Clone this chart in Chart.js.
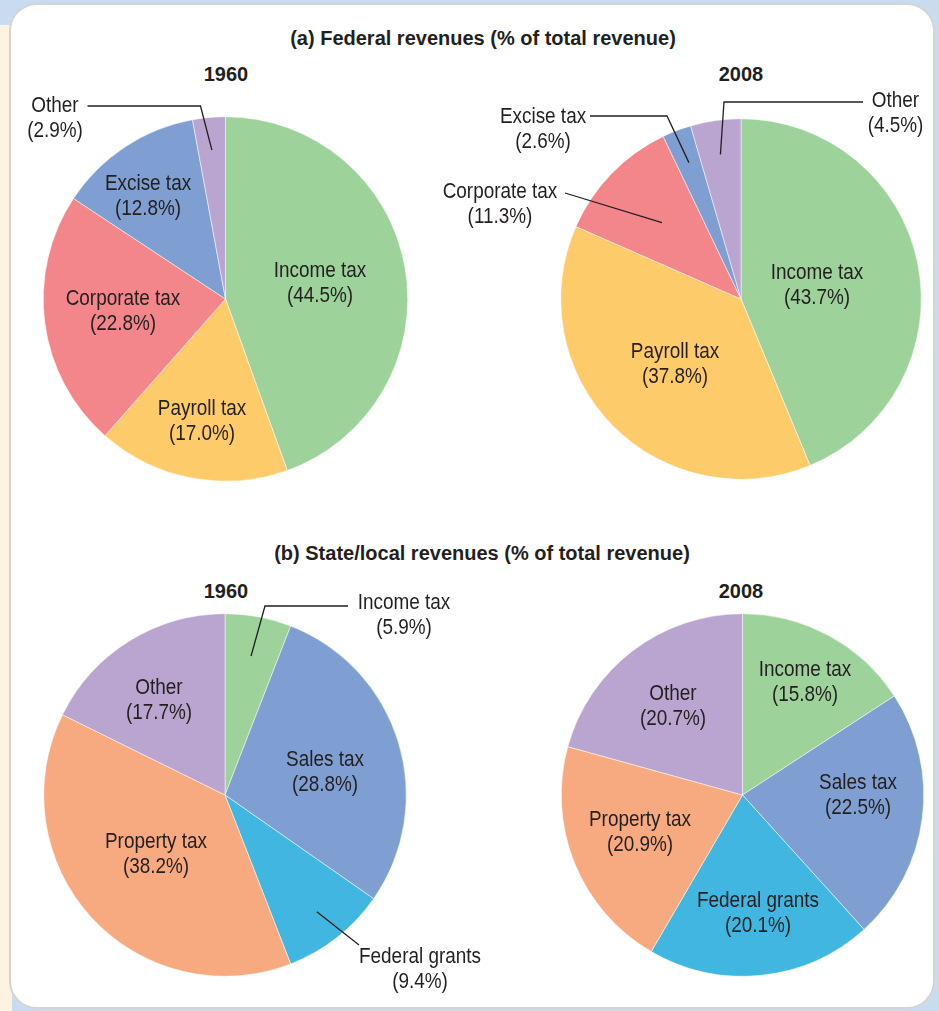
<!DOCTYPE html>
<html>
<head>
<meta charset="utf-8">
<script src="https://cdn.jsdelivr.net/npm/chart.js@4.4.0/dist/chart.umd.min.js"></script>
<style>
  html, body { margin: 0; padding: 0; }
  body { width: 939px; height: 1011px; position: relative; overflow: hidden; background: #c9dcef; }
  #strip { position: absolute; left: 0; top: 25px; width: 12px; height: 990px; background: #fdf3e1; }
  #panel { position: absolute; left: 9px; top: 3px; width: 922px; height: 1002px; background: #fff;
           border: 2px solid #d4d4d4; border-radius: 28px; }
  canvas { position: absolute; left: 0; pointer-events: none; }
  .hd { position: absolute; transform: translate(-50%, -50%); white-space: nowrap;
        font-family: "Liberation Sans", Arial, sans-serif; font-weight: bold; color: #231f20; }
  .sec { font-size: 20px; }
  .yr { font-size: 20px; }
</style>
</head>
<body>
<div id="strip"></div>
<div id="panel"></div>

<div class="hd sec" style="left:483px; top:38px">(a) Federal revenues (% of total revenue)</div>
<div class="hd yr" style="left:226px; top:74px">1960</div>
<div class="hd yr" style="left:741px; top:74px">2008</div>
<div class="hd sec" style="left:482px; top:553px">(b) State/local revenues (% of total revenue)</div>
<div class="hd yr" style="left:226px; top:591px">1960</div>
<div class="hd yr" style="left:741px; top:591px">2008</div>

<canvas id="fed1960" width="939" height="505" style="top:0"></canvas>
<canvas id="fed2008" width="939" height="505" style="top:0"></canvas>
<canvas id="st1960" width="939" height="505" style="top:500px"></canvas>
<canvas id="st2008" width="939" height="505" style="top:500px"></canvas>

<script>
// ---- data ----
var fedCategories = ['Income tax', 'Payroll tax', 'Corporate tax', 'Excise tax', 'Other'];
var fed1960 = [44.5, 17.0, 22.8, 12.8, 2.9];
var fed2008 = [43.7, 37.8, 11.3, 2.6, 4.5];

var stateCategories = ['Income tax', 'Sales tax', 'Federal grants', 'Property tax', 'Other'];
var state1960 = [5.9, 28.8, 9.4, 38.2, 17.7];
var state2008 = [15.8, 22.5, 20.1, 20.9, 20.7];

var fedColors = ['#9dd29b', '#fecb6a', '#f2868b', '#7f9fd2', '#b9a5cf'];
var stateColors = ['#9dd29b', '#7f9fd2', '#40b6e0', '#f7aa80', '#b9a5cf'];

var textColor = '#231f20';
var labelFont = '22px "Liberation Sans", Arial, sans-serif';
var squeeze = 0.86;   // condensed look of the original labels
var lineGap = 25;

// label layout: offset of the first text line from the pie centre,
// optional leader: elbow points (relative to centre) + fraction of radius for the end
var fed1960Layout = [
  { dx: 94.5, dy: -28 },
  { dx: -23.5, dy: 110 },
  { dx: -102.5, dy: 0 },
  { dx: -77.5, dy: -115 },
  { dx: -170.5, dy: -193, leader: [[-138, -193], [-25, -193]], frac: 0.82 }
];
var fed2008Layout = [
  { dx: 76, dy: -26 },
  { dx: -66, dy: 53 },
  { dx: -241, dy: -107, leader: [[-176, -106]], frac: 0.61 },
  { dx: -198, dy: -182, leader: [[-151, -183], [-74, -183]], frac: 0.81 },
  { dx: 154.5, dy: -198, leader: [[122, -197], [-17, -197]], frac: 0.81 }
];
var state1960Layout = [
  { dx: 179, dy: -192, leader: [[123, -189], [40, -189]], frac: 0.78 },
  { dx: 100, dy: -35 },
  { dx: 195, dy: 162, leader: [[134, 150]], frac: 0.82 },
  { dx: -69, dy: 47 },
  { dx: -66, dy: -107 }
];
var state2008Layout = [
  { dx: 62.5, dy: -125 },
  { dx: 115.5, dy: -12 },
  { dx: 15.5, dy: 106 },
  { dx: -102.5, dy: 25 },
  { dx: -69.5, dy: -101 }
];

function drawText(ctx, text, x, y) {
  ctx.save();
  ctx.translate(x, y);
  ctx.scale(squeeze, 1);
  ctx.fillText(text, 0, 0);
  ctx.restore();
}

var pieLabels = {
  id: 'pieLabels',
  afterDraw: function (chart, args, opts) {
    var ctx = chart.ctx;
    var meta = chart.getDatasetMeta(0);
    var values = chart.data.datasets[0].data;
    ctx.save();
    ctx.font = labelFont;
    ctx.fillStyle = textColor;
    ctx.strokeStyle = textColor;
    ctx.lineWidth = 1.3;
    ctx.textAlign = 'center';
    ctx.textBaseline = 'middle';
    opts.layout.forEach(function (lay, i) {
      var arc = meta.data[i];
      var cx = arc.x, cy = arc.y;
      var x = cx + lay.dx, y = cy + lay.dy;
      drawText(ctx, chart.data.labels[i], x, y);
      drawText(ctx, '(' + values[i].toFixed(1) + '%)', x, y + lineGap);
      if (lay.leader) {
        var mid = (arc.startAngle + arc.endAngle) / 2;
        var r = arc.outerRadius * lay.frac;
        ctx.beginPath();
        ctx.moveTo(cx + lay.leader[0][0], cy + lay.leader[0][1]);
        for (var k = 1; k < lay.leader.length; k++) {
          ctx.lineTo(cx + lay.leader[k][0], cy + lay.leader[k][1]);
        }
        ctx.lineTo(cx + Math.cos(mid) * r, cy + Math.sin(mid) * r);
        ctx.stroke();
      }
    });
    ctx.restore();
  }
};

function makePie(id, labels, values, colors, layout, pad) {
  return new Chart(document.getElementById(id), {
    type: 'pie',
    data: {
      labels: labels,
      datasets: [{
        data: values,
        backgroundColor: colors,
        borderColor: '#ffffff',
        borderWidth: 0.5
      }]
    },
    options: {
      responsive: false,
      animation: false,
      events: [],
      layout: { padding: pad },
      plugins: {
        legend: { display: false },
        tooltip: { enabled: false },
        pieLabels: { layout: layout }
      }
    },
    plugins: [pieLabels]
  });
}

makePie('fed1960', fedCategories, fed1960, fedColors, fed1960Layout,
  { left: 43, right: 531, top: 116.5, bottom: 23.5 });
makePie('fed2008', fedCategories, fed2008, fedColors, fed2008Layout,
  { left: 560.5, right: 17.5, top: 118.5, bottom: 25.5 });
makePie('st1960', stateCategories, state1960, stateColors, state1960Layout,
  { left: 43.5, right: 532.5, top: 113.5, bottom: 28.5 });
makePie('st2008', stateCategories, state2008, stateColors, state2008Layout,
  { left: 561, right: 15, top: 113.5, bottom: 28.5 });
</script>
</body>
</html>
